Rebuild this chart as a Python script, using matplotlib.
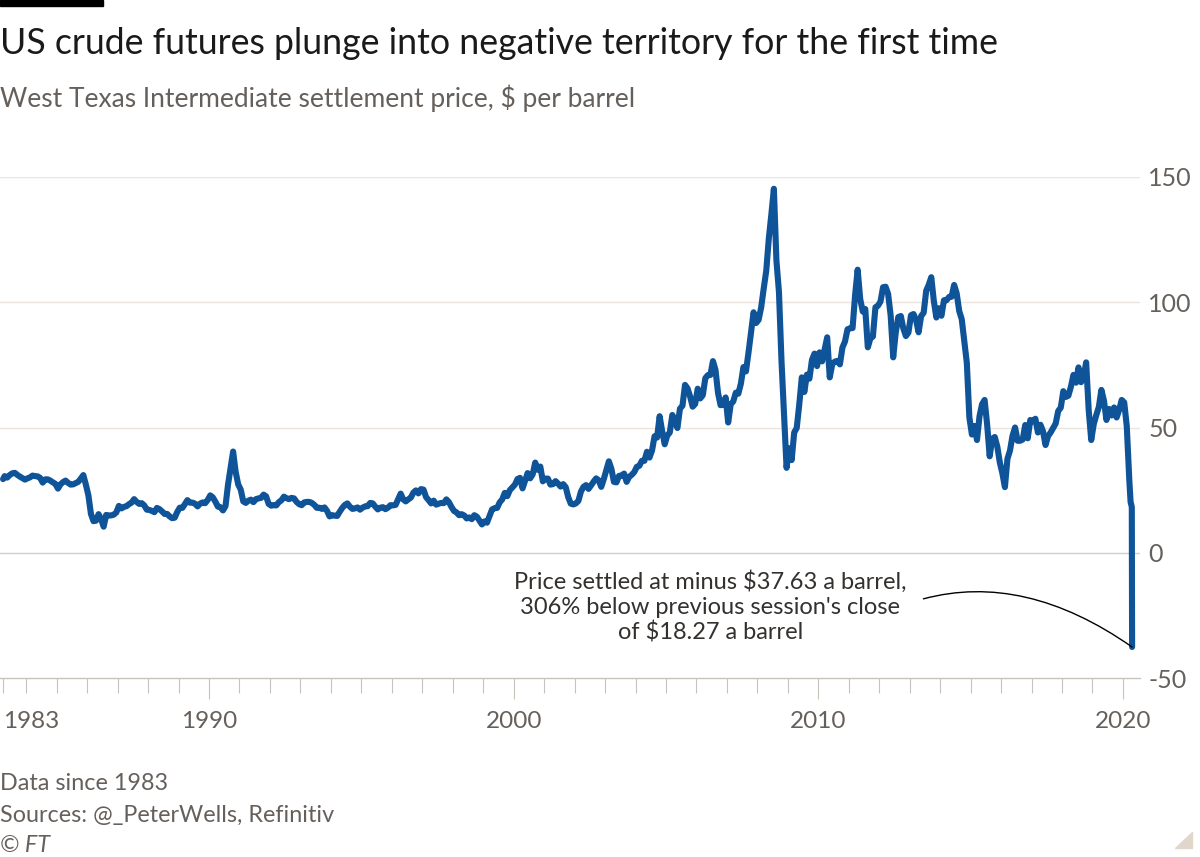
import numpy as np
import matplotlib.pyplot as plt
from matplotlib.patches import Rectangle, Polygon

plt.rcParams['font.family'] = ['Lato', 'DejaVu Sans']

# WTI settlement price, $ per barrel - first session (30 Mar 1983), then monthly readings from Apr 1983
first_date = 1983.24
first_price = 29.4
monthly_price = [
    30.6, 30.0, 31.0, 31.7, 31.9, 31.1, 30.4, 29.8, 29.2,                    # 1983 Apr-Dec
    29.7, 30.1, 30.8, 30.6, 30.5, 29.9, 28.0, 29.3, 29.3, 28.8, 28.1, 27.5,  # 1984
    25.6, 27.3, 28.2, 28.8, 27.9, 27.2, 27.3, 27.8, 28.3, 29.6, 31.0, 27.2,  # 1985
    22.9, 15.5, 12.6, 12.8, 15.4, 13.5, 10.4, 15.1, 14.9, 14.9, 15.2, 16.1,  # 1986
    18.7, 17.7, 18.3, 18.6, 19.4, 20.0, 21.4, 20.3, 19.5, 19.8, 18.9, 17.2,  # 1987
    17.1, 16.7, 16.2, 17.9, 17.4, 16.5, 15.5, 15.5, 14.5, 13.8, 14.0, 16.3,  # 1988
    18.0, 17.9, 19.4, 21.0, 20.0, 20.0, 19.6, 18.5, 19.6, 20.1, 19.8, 21.1,  # 1989
    22.9, 22.1, 20.4, 18.4, 18.2, 16.9, 18.6, 27.2, 33.7, 40.4, 32.3, 27.3,  # 1990
    25.2, 20.5, 19.9, 20.8, 21.2, 20.2, 21.4, 21.7, 21.9, 23.2, 22.5, 19.5,  # 1991
    18.8, 19.0, 18.9, 20.2, 20.9, 22.4, 21.8, 21.4, 21.9, 21.7, 20.3, 19.4,  # 1992
    19.0, 20.1, 20.3, 20.3, 19.9, 19.1, 17.9, 18.0, 17.5, 18.1, 16.7, 14.5,  # 1993
    15.0, 14.8, 14.7, 16.4, 17.9, 19.1, 19.7, 18.4, 17.5, 17.7, 18.1, 17.2,  # 1994
    18.0, 18.5, 18.6, 19.9, 19.7, 18.4, 17.3, 18.0, 18.2, 17.4, 18.0, 19.0,  # 1995
    18.9, 19.1, 21.4, 23.6, 21.3, 20.5, 21.3, 22.0, 24.0, 24.9, 23.7, 25.4,  # 1996
    25.2, 22.2, 21.0, 19.7, 20.8, 19.2, 19.6, 19.9, 19.8, 21.3, 20.2, 18.3,  # 1997
    16.7, 16.1, 15.0, 15.4, 14.9, 13.7, 14.1, 13.4, 15.0, 14.4, 12.9, 11.3,  # 1998
    12.5, 12.0, 14.7, 17.3, 17.8, 17.9, 20.1, 21.3, 23.9, 22.6, 25.0, 26.1,  # 1999
    27.2, 29.4, 29.9, 25.7, 28.8, 31.8, 29.7, 31.3, 36.0, 33.1, 34.4, 28.5,  # 2000
    29.6, 29.6, 27.2, 27.4, 28.6, 27.6, 26.4, 27.4, 26.2, 22.2, 19.6, 19.3,  # 2001
    19.7, 20.7, 24.4, 26.3, 27.0, 25.5, 26.9, 28.4, 29.7, 28.9, 26.3, 29.4,  # 2002
    32.9, 36.5, 33.5, 28.3, 28.1, 30.7, 30.8, 31.6, 28.3, 30.3, 31.1, 32.2,  # 2003
    34.3, 34.7, 36.7, 36.7, 40.3, 38.0, 40.8, 46.5, 46.0, 54.5, 48.5, 43.3,  # 2004
    46.8, 48.0, 55.0, 53.0, 49.8, 57.5, 58.7, 67.0, 65.6, 62.4, 58.3, 59.4,  # 2005
    65.5, 61.6, 62.9, 69.7, 70.9, 71.0, 76.5, 73.0, 63.8, 58.9, 59.1, 62.0,  # 2006
    52.0, 59.3, 60.4, 63.9, 63.5, 67.5, 74.1, 72.4, 79.9, 88.0, 96.0, 91.7,  # 2007
    93.0, 98.0, 105.5, 112.6, 125.4, 135.0, 145.3, 116.7, 104.1, 76.6, 55.0, 33.9,  # 2008
    41.7, 37.0, 48.0, 49.8, 59.2, 70.0, 64.2, 71.1, 69.5, 77.0, 79.5, 74.5,  # 2009
    80.0, 76.4, 81.2, 86.0, 70.0, 75.3, 76.3, 76.6, 75.2, 81.9, 84.3, 89.2,  # 2010
    89.6, 89.7, 102.9, 113.0, 101.3, 96.3, 97.3, 82.0, 85.5, 86.3, 98.0, 98.6,  # 2011
    100.3, 106.0, 106.2, 103.3, 94.7, 78.0, 87.9, 94.1, 94.5, 89.5, 86.5, 87.9,  # 2012
    94.8, 95.3, 92.9, 88.0, 94.5, 95.8, 104.6, 107.0, 110.0, 100.5, 93.9, 97.6,  # 2013
    94.6, 100.8, 100.8, 102.1, 102.2, 106.9, 103.6, 96.5, 93.2, 84.4, 75.8, 54.0,  # 2014
    47.2, 50.6, 45.0, 54.5, 59.3, 61.0, 51.2, 38.5, 45.5, 46.2, 42.4, 36.0,  # 2015
    31.7, 26.2, 37.5, 40.8, 46.7, 50.0, 44.7, 44.7, 45.2, 51.0, 45.7, 53.0,  # 2016
    52.5, 53.5, 48.0, 51.1, 48.5, 43.0, 46.6, 48.0, 49.8, 51.6, 56.6, 57.9,  # 2017
    64.5, 62.2, 62.7, 66.3, 71.0, 67.9, 74.0, 68.1, 70.2, 76.0, 57.0, 45.0,  # 2018
    51.4, 55.0, 58.2, 65.0, 60.8, 53.0, 57.4, 54.8, 58.0, 54.0, 57.0, 61.0,  # 2019
    60.0, 50.5, 29.0,                                                        # 2020 Jan-Mar
]
# April 2020 sessions: 1 Apr, 17 Apr (18.27), 20 Apr (-37.63)
april_dates = [2020.25, 2020.29, 2020.30]
april_prices = [20.3, 18.27, -37.63]

y_ticks = [150, 100, 50, 0, -50]
major_years = [1990, 2000, 2010, 2020]

title = "US crude futures plunge into negative territory for the first time"
subtitle = "West Texas Intermediate settlement price, $ per barrel"
note = "Price settled at minus $37.63 a barrel,\n306% below previous session's close\nof $18.27 a barrel"

# monthly points sit mid-month
month_dates = 1983 + (3 + np.arange(len(monthly_price)) + 0.5) / 12
dates = np.concatenate([[first_date], month_dates, april_dates])
prices = np.concatenate([[first_price], monthly_price, april_prices])

W, H = 1200, 857
grey = '#66605c'
fig = plt.figure(figsize=(12, 8.57), dpi=100)
ax = fig.add_axes([0.0, (H - 678) / H, 1140 / W, (678 - 177) / H])

ax.plot(dates, prices, color='#0f5499', lw=4.4, solid_joinstyle='round',
        solid_capstyle='round', zorder=3, clip_on=False)

ax.set_xlim(1983.14, 2020 + 17 / 30.4)
ax.set_ylim(-50, 150)

for s in ['top', 'left', 'right']:
    ax.spines[s].set_visible(False)
ax.spines['bottom'].set_color('#c9c3bd')
ax.spines['bottom'].set_linewidth(1.0)

ax.yaxis.tick_right()
ax.set_yticks(y_ticks)
ax.set_yticklabels([str(v) for v in y_ticks])
ax.tick_params(axis='y', length=0, pad=6, labelsize=18, labelcolor=grey)
for v in y_ticks:
    if v in (50, 100, 150):
        ax.axhline(v, color='#ece5dd', lw=1.0, zorder=1)
    elif v == 0:
        ax.axhline(v, color='#d6cec6', lw=1.0, zorder=1)

ax.set_xticks([first_date] + major_years)
ax.set_xticklabels(['1983'] + [str(y) for y in major_years])
ax.set_xticks([y for y in range(1984, 2020) if y not in major_years], minor=True)
ax.tick_params(axis='x', which='major', length=15, width=0.8, color='#c9c3bd',
               labelsize=17.5, labelcolor=grey, pad=9)
ax.tick_params(axis='x', which='minor', length=11, width=0.8, color='#c9c3bd')
ax.xaxis.get_major_ticks()[0].tick1line.set_markersize(11)
ax.get_xticklabels()[0].set_ha('left')

# annotation
ax.text(2006.45, -21.6, note, ha='center', va='center', fontsize=17, color='#33302e',
        linespacing=1.2)
ax.annotate('', xy=(april_dates[-1], april_prices[-1]), xytext=(2013.45, -18.4),
            arrowprops=dict(arrowstyle='-', color='black', lw=1.0, shrinkA=0, shrinkB=0,
                            connectionstyle='angle3,angleA=15,angleB=145'))

# header and footer
fig.patches.append(Rectangle((0, 1 - 6 / H), 103 / W, 6 / H, transform=fig.transFigure,
                             color='black', zorder=5))
fig.text(0.0, 1 - 43 / H, title, fontsize=25.7, color='#1a1a1a', va='center', ha='left')
fig.text(0.0, 1 - 98 / H, subtitle, fontsize=19, color=grey, va='center', ha='left')
fig.text(0.0, 1 - 783 / H, "Data since 1983", fontsize=16.8, color=grey, va='center')
fig.text(0.0, 1 - 815 / H, "Sources: @_PeterWells, Refinitiv", fontsize=16.8, color=grey, va='center')
fig.text(0.0, 1 - 845 / H, "© FT", fontsize=16.8, color=grey, va='center', style='italic')
fig.patches.append(Polygon([(1192 / W, 1 - 832 / H), (1192 / W, 1 - 848 / H), (1175 / W, 1 - 848 / H)],
                           closed=True, transform=fig.transFigure, color='#e2d6cb'))

fig.savefig('out.png', dpi=100, facecolor='white')
